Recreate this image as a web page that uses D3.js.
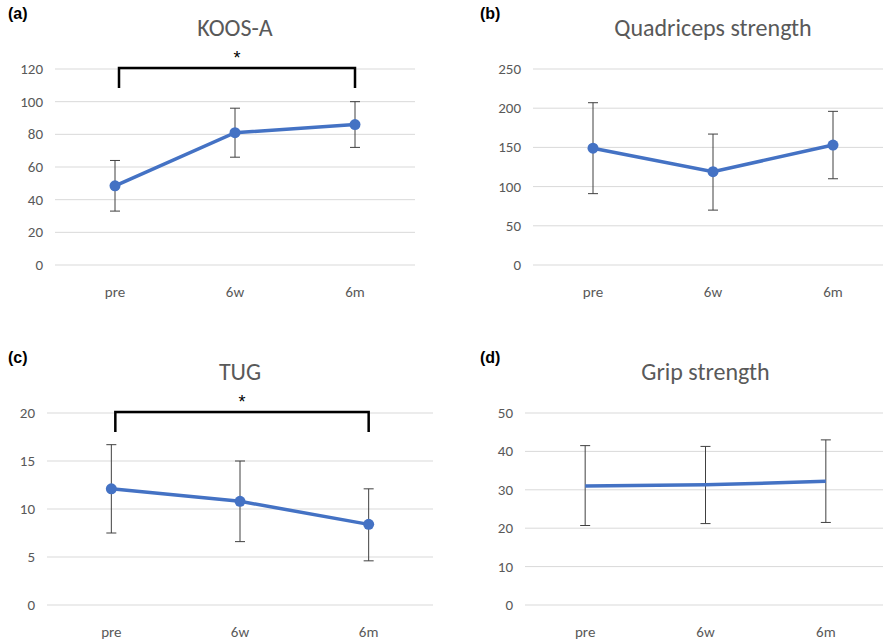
<!DOCTYPE html>
<html><head><meta charset="utf-8">
<script src="https://cdn.jsdelivr.net/npm/d3@7"></script>
<style>body{margin:0;background:#fff;font-family:Calibri,Carlito,"Open Sans",sans-serif}</style>
</head><body><svg id="c" width="883" height="642"></svg>
<script>
const categories = ["pre", "6w", "6m"];
const koosMean = [48.5, 81, 86], koosLo = [33, 66, 72], koosHi = [64, 96, 100];
const quadMean = [149, 119, 153], quadLo = [91, 70, 110], quadHi = [207, 167, 196];
const tugMean = [12.1, 10.8, 8.4], tugLo = [7.5, 6.6, 4.6], tugHi = [16.7, 15, 12.1];
const gripMean = [31, 31.3, 32.2], gripLo = [20.7, 21.2, 21.5], gripHi = [41.5, 41.3, 43];

const svg = d3.select("#c");

function panel(o) {
  const x = d3.scalePoint().domain(categories).range([o.x0, o.x1]).padding(0.5);
  const y = d3.scaleLinear().domain([0, o.max]).range([o.y0, o.y1]);
  const g = svg.append("g");
  const ticks = d3.range(0, o.max + 1, o.step);
  g.selectAll(".grid").data(ticks).join("line")
    .attr("x1", o.x0).attr("x2", o.x1).attr("y1", d => y(d)).attr("y2", d => y(d))
    .attr("stroke", "#d9d9d9").attr("stroke-width", 1);
  g.selectAll(".yl").data(ticks).join("text")
    .attr("x", o.x0 - 12).attr("y", d => y(d) + 5).attr("text-anchor", "end")
    .attr("font-size", 15).attr("fill", "#595959").text(d => d);
  g.selectAll(".xl").data(categories).join("text")
    .attr("x", d => x(d)).attr("y", o.y0 + 32).attr("text-anchor", "middle")
    .attr("font-size", 15).attr("fill", "#595959").text(d => d);
  g.append("text").attr("x", (o.x0 + o.x1) / 2).attr("y", o.y1 - 33).attr("text-anchor", "middle")
    .attr("font-size", 24).attr("fill", "#595959").text(o.title);
  g.append("text").attr("x", o.lx).attr("y", o.y1 - 50).attr("font-size", 16).attr("font-weight", "bold")
    .attr("font-family", "Arial, Liberation Sans, sans-serif").text(o.label);
  const data = categories.map((c, i) => ({c, m: o.mean[i], lo: o.lo[i], hi: o.hi[i]}));
  const eb = g.selectAll(".eb").data(data).join("g").attr("stroke", "#404040").attr("stroke-width", 1);
  eb.append("line").attr("x1", d => x(d.c)).attr("x2", d => x(d.c)).attr("y1", d => y(d.lo)).attr("y2", d => y(d.hi));
  eb.append("line").attr("x1", d => x(d.c) - 5).attr("x2", d => x(d.c) + 5).attr("y1", d => y(d.lo)).attr("y2", d => y(d.lo));
  eb.append("line").attr("x1", d => x(d.c) - 5).attr("x2", d => x(d.c) + 5).attr("y1", d => y(d.hi)).attr("y2", d => y(d.hi));
  g.append("path").datum(data).attr("fill", "none").attr("stroke", "#4472c4").attr("stroke-width", 3.5)
    .attr("d", d3.line().x(d => x(d.c)).y(d => y(d.m)));
  if (o.markers) g.selectAll(".pt").data(data).join("circle")
    .attr("cx", d => x(d.c)).attr("cy", d => y(d.m)).attr("r", 5.5).attr("fill", "#4472c4");
  if (o.bracket) {
    const xa = x(categories[0]) + 4, xb = x(categories[2]);
    const top = y(o.max) - 1, bot = top + 20;
    g.append("path").attr("d", `M${xa},${bot}V${top}H${xb}V${bot}`)
      .attr("fill", "none").attr("stroke", "#000").attr("stroke-width", 2.5);
    g.append("text").attr("x", (xa + xb) / 2).attr("y", top - 4).attr("text-anchor", "middle")
      .attr("font-size", 18).attr("font-family", "Arial, Liberation Sans, sans-serif").text("*");
  }
}

panel({x0: 55, x1: 415, y0: 265, y1: 69, max: 120, step: 20, title: "KOOS-A", label: "(a)", lx: 8,
  mean: koosMean, lo: koosLo, hi: koosHi, markers: true, bracket: true});
panel({x0: 533, x1: 893, y0: 265, y1: 69, max: 250, step: 50, title: "Quadriceps strength", label: "(b)", lx: 480,
  mean: quadMean, lo: quadLo, hi: quadHi, markers: true});
panel({x0: 47, x1: 433, y0: 605, y1: 413, max: 20, step: 5, title: "TUG", label: "(c)", lx: 8,
  mean: tugMean, lo: tugLo, hi: tugHi, markers: true, bracket: true});
panel({x0: 525, x1: 886, y0: 605, y1: 413, max: 50, step: 10, title: "Grip strength", label: "(d)", lx: 480,
  mean: gripMean, lo: gripLo, hi: gripHi, markers: false});
</script></body></html>
